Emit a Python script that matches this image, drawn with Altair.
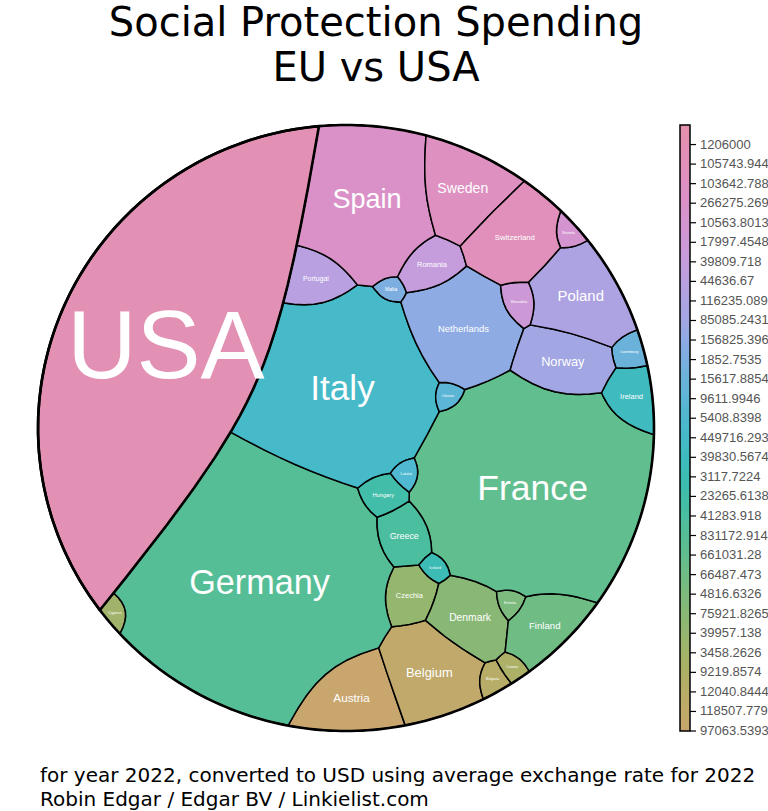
import numpy as np
import pandas as pd
import altair as alt

# ---------------- data ----------------
countries = ["Austria", "Belgium", "Bulgaria", "Croatia", "Cyprus", "Czechia", "Denmark",
             "Estonia", "Finland", "France", "Germany", "Greece", "Hungary", "Iceland",
             "Ireland", "Italy", "Latvia", "Lithuania", "Luxembourg", "Malta", "Netherlands",
             "Norway", "Poland", "Portugal", "Romania", "Slovakia", "Slovenia", "Spain",
             "Sweden", "Switzerland", "USA"]
spending = [97063.5393, 118507.779, 12040.8444, 9219.8574, 3458.2626, 39957.138, 75921.8265,
            4816.6326, 66487.473, 661031.28, 831172.914, 41283.918, 23265.6138, 3117.7224,
            39830.5674, 449716.293, 5408.8398, 9611.9946, 15617.8854, 1852.7535, 156825.396,
            85085.2431, 116235.089, 44636.67, 39809.718, 17997.4548, 10563.8013, 266275.269,
            103642.788, 105743.944, 1206000]
top_group = "USA"   # level 1: USA vs the European countries

title_lines = ["Social Protection Spending", "EU vs USA"]
footer_lines = ["for year 2022, converted to USD using average exchange rate for 2022",
                "Robin Edgar / Edgar BV / Linkielist.com"]

# colour scale stops (index along the colour bar)
color_stops = [0, 3, 6, 9, 12, 15, 18, 21, 24, 27, 31]
color_range = ["#C8A66E", "#ADB067", "#89B876", "#61BE8E", "#41BDA9", "#46BAC8",
               "#6BB2DA", "#A2A6E2", "#C59CDC", "#DA91C8", "#E391AD"]

# ---------------- layout: hierarchical additively weighted Voronoi treemap ----------------
W, H = 616, 606
RX, RY = W / 2, H / 2
CXp, CYp = 38 + RX, 125 + RY
seed_px = {
    "Switzerland": (521, 245), "Sweden": (473, 192), "Spain": (380, 192),
    "Slovenia": (573, 240), "Slovakia": (515, 299), "Romania": (439, 270), "Portugal": (334, 273),
    "Poland": (572, 300), "Norway": (555, 358), "Netherlands": (467, 340), "Malta": (389, 288),
    "Luxembourg": (622, 348), "Lithuania": (446, 406), "Latvia": (415, 466), "Italy": (345, 392),
    "Ireland": (624, 396), "Iceland": (440, 566), "Hungary": (375, 492), "Greece": (406, 533),
    "Germany": (245, 592), "France": (540, 488), "Finland": (556, 616), "Estonia": (507, 608),
    "Denmark": (462, 612), "Czechia": (401, 597), "Cyprus": (120, 615), "Croatia": (507, 657),
    "Bulgaria": (472, 683), "Belgium": (412, 677), "Austria": (330, 698),
}
usa_dir = np.array([-0.913, 0.407])   # direction of the USA part from the circle centre


def to_unit(p):
    return np.array([(p[0] - CXp) / RX, (CYp - p[1]) / RY])


vals = np.array(spending, dtype=float)
share = vals / vals.sum()
share = np.maximum(share, 0.002)
share = share / share.sum()
iU = countries.index(top_group)
eu_idx = [i for i in range(len(countries)) if i != iU]


def rays(M):
    th = np.linspace(0, 2 * np.pi, M, endpoint=False)
    return np.stack([np.cos(th), np.sin(th)], 1)


def cast(P, r, U, extra=None):
    D = P[None, :, :] - P[:, None, :]
    A = r[None, :] - r[:, None]
    dd = (D ** 2).sum(-1)
    ud = np.einsum('mk,ijk->imj', U, D)
    den = A[:, None, :] + ud
    num = (dd - A ** 2)[:, None, :]
    good = den > 1e-12
    t = np.where(good, num / (2 * np.where(good, den, 1.0)), np.inf)
    idx = np.arange(len(P))
    t[idx, :, idx] = np.inf
    tmin = t.min(-1)
    b = P @ U.T
    c = (P ** 2).sum(1) - 1.0
    tc = -b + np.sqrt(np.maximum(b ** 2 - c[:, None], 0))
    T = np.minimum(tmin, tc)
    if extra is not None:
        T = np.minimum(T, extra)
    T = np.maximum(T, 0)
    return P[:, 0:1] + T * U[None, :, 0], P[:, 1:2] + T * U[None, :, 1]


def exit_region(Q, U, pU, pE, a):
    """first t>0 along rays from Q where |x-pU| = |x-pE| - a (leaving the EU part)"""
    e = Q - pE
    f = Q - pU
    ue = e @ U.T
    K = (e ** 2).sum(1) - (f ** 2).sum(1) + a * a
    L = 2 * (U @ (pU - pE))
    qa = (4 * a * a - L ** 2)[None, :] + 0 * ue
    qb = 8 * a * a * ue - 2 * K[:, None] * L[None, :]
    qc = (4 * a * a * (e ** 2).sum(1) - K ** 2)[:, None] + 0 * ue
    disc = np.sqrt(np.maximum(qb ** 2 - 4 * qa * qc, 0))
    safe = np.where(np.abs(qa) < 1e-14, 1e-14, qa)
    best = np.full(ue.shape, np.inf)
    for t in ((-qb - disc) / (2 * safe), (-qb + disc) / (2 * safe)):
        xx = Q[:, 0:1] + t * U[None, :, 0]
        yy = Q[:, 1:2] + t * U[None, :, 1]
        g = np.hypot(xx - pU[0], yy - pU[1]) - np.hypot(xx - pE[0], yy - pE[1]) + a
        ok = np.isfinite(t) & (t > 1e-9) & (np.abs(g) < 1e-5)
        best = np.where(ok & (t < best), t, best)
    return best


def poly_stats(X, Y):
    X1 = np.roll(X, -1, 1)
    Y1 = np.roll(Y, -1, 1)
    cr = X * Y1 - X1 * Y
    A = cr.sum(1) / 2
    As = np.where(np.abs(A) < 1e-12, 1e-12, A)
    return A, ((X + X1) * cr).sum(1) / (6 * As), ((Y + Y1) * cr).sum(1) / (6 * As)


def fix(P, r, frac=0.9):
    D = np.sqrt(((P[:, None, :] - P[None, :, :]) ** 2).sum(-1))
    n = len(r)
    for _ in range(300):
        ex = r[:, None] - r[None, :] - frac * D
        np.fill_diagonal(ex, -np.inf)
        k = int(np.argmax(ex))
        i, j = divmod(k, n)
        if ex[i, j] <= 0:
            break
        e = ex[i, j] / 2 + 1e-9
        r[i] -= e
        r[j] += e
    return r


# ---- level 1: USA vs Europe ----
tU = share[iU] * np.pi
pU = 0.64 * usa_dir
pE = -0.35 * pU
U360 = rays(360)
for _ in range(25):
    d = np.linalg.norm(pU - pE)
    lo, hi = -0.98 * d, 0.98 * d
    for _ in range(40):
        a = 0.5 * (lo + hi)
        X, Y = cast(np.array([pU, pE]), np.array([0.0, a]), U360)
        A, Cx, Cy = poly_stats(X, Y)
        if A[0] > tU:
            lo = a
        else:
            hi = a
    cU = np.array([Cx[0], Cy[0]])
    pU = cU
    pE = -A[0] * cU / (np.pi - A[0])

# ---- level 2: European countries inside their part ----
P = np.array([to_unit(seed_px[countries[i]]) for i in eu_idx])
for k in range(len(P)):
    for _ in range(60):
        g = np.linalg.norm(P[k] - pU) - np.linalg.norm(P[k] - pE) + a
        if g > 0.02:
            break
        P[k] = P[k] + 0.08 * (pE - P[k])
eu_share = share[eu_idx] / share[eu_idx].sum()
target = eu_share * (np.pi - tU)
r = np.zeros(len(P))
for it in range(500):
    X, Y = cast(P, r, U360, exit_region(P, U360, pU, pE, a))
    A, Cx, Cy = poly_stats(X, Y)
    r = r + 0.6 * (target - A) / np.sqrt(np.pi * np.maximum(A, 1e-6))
    if it < 150:
        okc = A > 1e-6
        P[okc, 0] += 0.15 * (Cx[okc] - P[okc, 0])
        P[okc, 1] += 0.15 * (Cy[okc] - P[okc, 1])
    r = fix(P, r)

UF = rays(2048)
XE, YE = cast(P, r, UF, exit_region(P, UF, pU, pE, a))
XU, YU = cast(np.array([pU, pE]), np.array([0.0, a]), UF)
XA = np.zeros((len(countries), UF.shape[0]))
YA = np.zeros_like(XA)
XA[eu_idx] = XE
YA[eu_idx] = YE
XA[iU] = XU[0]
YA[iU] = YU[0]
A, Cx, Cy = poly_stats(XA, YA)


def simplify_closed(pts, tol):
    n = len(pts)
    arr = np.vstack([pts, pts[:1]])
    keep = np.zeros(len(arr), bool)
    keep[0] = keep[-1] = True
    m = n // 2
    keep[m] = True
    stack = [(0, m), (m, len(arr) - 1)]
    while stack:
        s, e = stack.pop()
        if e - s < 2:
            continue
        seg = arr[s + 1:e]
        p, q = arr[s], arr[e]
        dx, dy = q - p
        Ln = np.hypot(dx, dy)
        if Ln < 1e-12:
            dist = np.hypot(seg[:, 0] - p[0], seg[:, 1] - p[1])
        else:
            dist = np.abs(dx * (seg[:, 1] - p[1]) - dy * (seg[:, 0] - p[0])) / Ln
        k = int(np.argmax(dist))
        if dist[k] > tol:
            mm = s + 1 + k
            keep[mm] = True
            stack.append((s, mm))
            stack.append((mm, e))
    return arr[keep][:-1]


rows = []
for i, name in enumerate(countries):
    pts = simplify_closed(np.stack([XA[i], YA[i]], 1), 0.0007)
    for k, (x, y) in enumerate(pts):
        rows.append({"name": name, "code": i, "k": k, "x": round(float(x), 5), "y": round(float(y), 5)})
cell_df = pd.DataFrame(rows)

lab_df = pd.DataFrame({
    "name": countries,
    "x": np.round(Cx, 5),
    "y": np.round(Cy, 5),
    "fs": np.round(1.05 * np.sqrt(np.maximum(A, 0) * RX * RY) / np.array([len(c) for c in countries]), 2),
})

th = np.linspace(0, 2 * np.pi, 360, endpoint=False)
circle_df = pd.DataFrame({"k": np.arange(len(th)), "x": np.cos(th), "y": np.sin(th)})

N = len(countries)
cb_df = pd.DataFrame({"lo": np.round(np.arange(0, N, 0.1), 3)})
cb_df["hi"] = np.minimum(cb_df["lo"] + 0.2, N)
cb_df["mid"] = cb_df["lo"] + 0.05
tick_df = pd.DataFrame({"idx": np.arange(N), "label": ["{:.10g}".format(v) for v in spending]})
frame_df = pd.DataFrame({"lo": [0], "hi": [N]})

# ---------------- chart ----------------
xs = alt.Scale(domain=[-1, 1], nice=False, zero=False)
ys = alt.Scale(domain=[-1, 1], nice=False, zero=False)
cby = alt.Scale(domain=[0, N], nice=False, zero=False)
cscale = alt.Scale(domain=color_stops, range=color_range, interpolate="hcl")

X_ = alt.X("x:Q", scale=xs, axis=None)
Y_ = alt.Y("y:Q", scale=ys, axis=None)

cells_layer = alt.Chart(cell_df).mark_line(
    filled=True, interpolate="linear-closed", stroke="black", strokeWidth=1.5,
    strokeJoin="round", fillOpacity=1, opacity=1
).encode(x=X_, y=Y_, order="k:Q", detail="name:N",
         color=alt.Color("code:Q", scale=cscale, legend=None))

usa_layer = alt.Chart(cell_df).transform_filter(alt.datum.name == top_group).mark_line(
    interpolate="linear-closed", color="black", strokeWidth=2.6, strokeJoin="round"
).encode(x=X_, y=Y_, order="k:Q")

circle_layer = alt.Chart(circle_df).mark_line(
    interpolate="linear-closed", color="black", strokeWidth=2.6
).encode(x=X_, y=Y_, order="k:Q")

label_layer = alt.Chart(lab_df).mark_text(
    color="white", font="Liberation Sans", align="center", baseline="middle"
).encode(x=X_, y=Y_, text="name:N", size=alt.Size("fs:Q", scale=None, legend=None))

cb_rect = alt.Chart(cb_df).mark_rect().encode(
    x=alt.value(642), x2=alt.value(652),
    y=alt.Y("lo:Q", scale=cby, axis=None), y2="hi:Q",
    color=alt.Color("mid:Q", scale=cscale, legend=None))
cb_frame = alt.Chart(frame_df).mark_rect(fillOpacity=0, stroke="black", strokeWidth=1.5).encode(
    x=alt.value(642), x2=alt.value(652),
    y=alt.Y("lo:Q", scale=cby, axis=None), y2="hi:Q")
cb_ticks = alt.Chart(tick_df).mark_rule(color="black", strokeWidth=1.2).encode(
    x=alt.value(652), x2=alt.value(658), y=alt.Y("idx:Q", scale=cby, axis=None))
cb_text = alt.Chart(tick_df).mark_text(
    align="left", baseline="middle", fontSize=13, color="#555555", font="Liberation Sans"
).encode(x=alt.value(662), y=alt.Y("idx:Q", scale=cby, axis=None), text="label:N")


def text_line(s, x, y, size, align):
    return alt.Chart(pd.DataFrame({"t": [s]})).mark_text(
        align=align, baseline="alphabetic", fontSize=size, font="DejaVu Sans", color="black"
    ).encode(x=alt.value(x), y=alt.value(y), text="t:N")


t1 = text_line(title_lines[0], 338, -89, 40, "center")
t2 = text_line(title_lines[1], 338, -44, 40, "center")
f1 = text_line(footer_lines[0], 2, 657, 20, "left")
f2 = text_line(footer_lines[1], 2, 681, 20, "left")

chart = alt.layer(
    cells_layer, usa_layer, circle_layer, label_layer,
    cb_rect, cb_frame, cb_ticks, cb_text, t1, t2, f1, f2
).resolve_scale(
    x="independent", y="independent"
).properties(
    width=W, height=H,
    background="white",
    autosize=alt.AutoSizeParams(type="none"),
    padding={"left": 38, "top": 125, "right": 768 - 38 - W, "bottom": 811 - 125 - H},
).configure_view(strokeWidth=0, stroke="transparent")

chart.save("out.html", embed_options={"renderer": "svg", "actions": False})
